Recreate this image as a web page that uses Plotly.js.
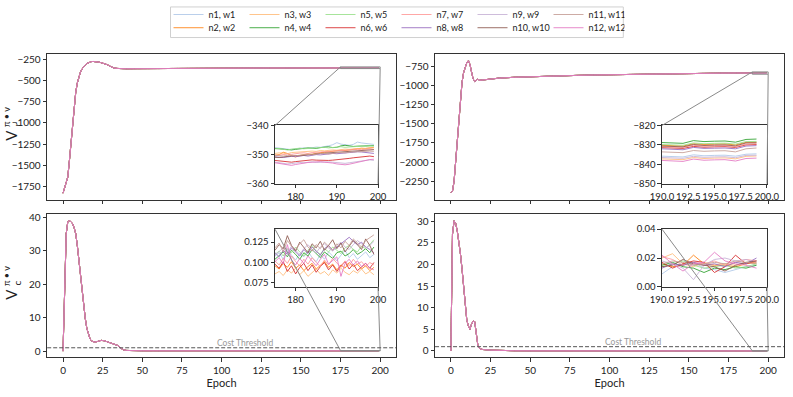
<!DOCTYPE html>
<html>
<head>
<meta charset="utf-8">
<script src="https://cdn.plot.ly/plotly-3.0.1.min.js"></script>
<style>
  html, body { margin: 0; padding: 0; background: #fff; }
  #chart { width: 793px; height: 397px; }
</style>
</head>
<body>
<div id="chart"></div>
<script>
// series labels and colours (tab20 without the first entry)
const seriesNames = ["n1, w1", "n2, w2", "n3, w3", "n4, w4", "n5, w5", "n6, w6",
                     "n7, w7", "n8, w8", "n9, w9", "n10, w10", "n11, w11", "n12, w12"];
const seriesColors = ["#aec7e8", "#ff7f0e", "#ffbb78", "#2ca02c", "#98df8a", "#d62728",
                      "#ff9896", "#9467bd", "#c5b0d5", "#8c564b", "#c49c94", "#e377c2"];

const mainTicks = [0, 25, 50, 75, 100, 125, 150, 175, 200];
const costThreshold = 1;

// ---- shared early part of each curve (all 12 runs overlap there) ----
const headEpochsVrLeft = [0,1,2,3,4,5,6,7,8,9,10,11,12,13,14,15,16,17,18,19,20,22,24,26,28,30,32,34,36,38,40,45,50,60,70,80,90,100,110,120,130,140,150,160,170];
const headVrLeft = [-1830,-1760,-1700,-1640,-1450,-1230,-1000,-800,-640,-530,-450,-400,-365,-338,-316,-300,-289,-281,-277,-276,-277,-282,-290,-300,-315,-335,-352,-358,-361,-362,-362,-361,-360,-359,-358,-357,-356,-356,-355,-354,-353,-353,-352,-351,-351];

const headEpochsVrRight = [0,1,2,3,4,5,6,7,8,9,10,11,12,13,14,15,16,17,18,19,20,25,30,40,50,60,70,80,90,100,110,120,130,140,150,160,170,180,185];
const headVrRight = [-2402,-2380,-2250,-2000,-1720,-1420,-1150,-960,-830,-750,-700,-675,-720,-820,-910,-945,-930,-915,-930,-928,-922,-912,-902,-890,-882,-876,-870,-865,-860,-856,-853,-850,-847,-844,-841,-838,-836,-834,-833];

const headEpochsVcLeft = [0,1,2,3,4,5,6,7,8,9,10,11,12,13,14,15,16,17,18,19,20,22,24,26,28,30,32,34,35,36,38,40,43,50,60,80,100,120,140,160,170];
const headVcLeft = [0,15,35,38.6,38.9,38.6,38,36.8,35,31.5,27,22.5,18,13.5,9.8,6.8,4.8,3.7,3.0,2.75,2.7,2.9,3.2,3.1,2.8,2.5,2.1,1.9,1.6,1.0,0.4,0.2,0.12,0.11,0.1,0.1,0.1,0.1,0.1,0.1,0.1];

const headEpochsVcRight = [0,1,2,3,4,5,6,7,8,9,10,11,12,13,14,15,16,17,18,19,20,25,30,40,50,60,80,100,120,140,160,180,185];
const headVcRight = [0,27,30.1,29.5,27.8,25.5,22.5,19,14.5,10,7.2,5.8,5.0,6.2,6.9,6.8,4.0,1.3,0.6,0.45,0.35,0.2,0.12,0.06,0.04,0.03,0.025,0.02,0.02,0.018,0.017,0.016,0.016];

// ---- last epochs, one row per run (n1 .. n12) ----
const tailEpochsLeft = [175,176,177,178,179,180,181,182,183,184,185,186,187,188,189,190,191,192,193,194,195,196,197,198,199];
const tailEpochsRight = [190,191,192,193,194,195,196,197,198,199];

const tailVrLeft = [
  [-347.6,-347.8,-347.9,-348.1,-348.3,-348.0,-347.8,-347.7,-347.9,-347.6,-347.4,-347.5,-347.3,-347.0,-346.6,-345.9,-346.4,-346.6,-346.8,-346.5,-345.7,-346.0,-346.2,-346.4,-346.5],
  [-350.2,-350.0,-349.2,-349.6,-350.4,-350.8,-350.3,-350.0,-349.8,-349.9,-349.5,-349.3,-349.2,-349.0,-348.9,-348.7,-348.5,-348.6,-348.4,-348.2,-348.0,-347.8,-347.9,-347.6,-347.5],
  [-349.6,-349.4,-349.5,-349.7,-349.3,-349.2,-349.0,-349.1,-348.9,-348.8,-348.9,-348.6,-348.7,-348.5,-348.4,-348.5,-348.3,-348.1,-348.2,-348.0,-347.9,-348.0,-347.8,-347.7,-347.6],
  [-347.9,-348.0,-348.1,-348.3,-348.4,-348.2,-348.0,-347.8,-347.7,-347.8,-347.9,-347.6,-347.4,-347.3,-347.6,-347.5,-347.0,-346.8,-347.0,-347.2,-347.1,-347.0,-346.9,-346.8,-346.9],
  [-348.0,-347.9,-348.2,-348.4,-348.1,-347.9,-347.8,-348.0,-347.9,-347.7,-347.8,-347.6,-347.5,-347.7,-347.6,-347.4,-347.3,-347.5,-347.4,-347.2,-347.3,-347.1,-347.2,-347.0,-347.1],
  [-352.0,-352.1,-352.3,-352.5,-352.6,-352.4,-352.2,-352.0,-351.9,-351.8,-351.9,-352.0,-352.1,-352.0,-351.9,-351.8,-351.6,-351.5,-351.3,-351.1,-350.9,-350.8,-350.6,-350.5,-350.7],
  [-350.4,-350.2,-350.0,-349.8,-349.9,-349.6,-349.5,-349.4,-349.6,-349.3,-349.2,-349.0,-349.1,-348.9,-348.8,-348.6,-348.7,-348.5,-348.4,-348.3,-348.2,-348.3,-348.1,-348.0,-348.2],
  [-350.8,-350.9,-351.0,-350.8,-350.6,-350.7,-350.4,-350.3,-350.5,-350.2,-350.0,-350.1,-349.9,-349.8,-349.6,-349.7,-349.5,-349.4,-349.3,-349.2,-349.0,-349.1,-349.3,-349.4,-349.6],
  [-352.6,-352.8,-353.0,-353.2,-353.1,-352.9,-352.7,-352.8,-352.6,-352.5,-352.7,-352.6,-352.4,-352.5,-352.6,-352.8,-352.9,-353.0,-352.8,-352.6,-352.4,-352.2,-352.0,-351.8,-352.0],
  [-350.9,-351.0,-350.8,-350.6,-350.5,-350.3,-350.4,-350.2,-350.0,-349.9,-349.8,-349.6,-349.5,-349.4,-349.5,-349.3,-349.1,-349.0,-348.9,-348.8,-348.7,-348.6,-348.5,-348.4,-348.3],
  [-350.2,-350.4,-350.5,-350.3,-350.2,-350.4,-350.1,-350.0,-349.9,-350.1,-349.8,-349.7,-349.6,-349.8,-349.5,-349.4,-349.3,-349.4,-349.2,-349.1,-349.0,-349.1,-348.9,-348.8,-348.9],
  [-352.8,-353.0,-353.3,-353.6,-353.7,-353.4,-353.1,-352.9,-352.7,-352.6,-352.5,-352.4,-352.6,-352.7,-352.9,-353.2,-353.4,-353.5,-353.3,-353.0,-352.6,-352.2,-351.9,-351.7,-351.6]
];

const tailVrRight = [
  [-835.8,-836.0,-836.2,-835.1,-835.6,-835.4,-835.3,-835.8,-834.8,-834.6],
  [-830.2,-830.4,-830.6,-829.4,-829.8,-829.6,-829.5,-830.0,-828.7,-828.6],
  [-837.2,-837.4,-837.6,-836.5,-837.0,-836.8,-836.7,-837.2,-835.9,-835.7],
  [-828.8,-829.0,-829.2,-827.8,-828.3,-828.1,-828.0,-828.6,-827.2,-827.0],
  [-829.8,-830.0,-830.2,-829.0,-829.4,-829.2,-829.1,-829.6,-828.3,-828.2],
  [-831.4,-831.6,-831.8,-830.8,-831.2,-831.0,-830.9,-831.3,-830.0,-829.8],
  [-831.0,-831.2,-831.3,-830.2,-830.7,-830.5,-830.4,-830.9,-829.6,-829.4],
  [-832.0,-832.2,-832.5,-831.3,-831.8,-831.7,-831.6,-832.0,-830.6,-830.4],
  [-836.5,-836.7,-836.9,-835.9,-836.4,-836.2,-836.1,-836.6,-835.4,-835.3],
  [-830.6,-830.8,-831.0,-829.8,-830.3,-830.1,-830.0,-830.5,-829.0,-828.9],
  [-833.6,-833.8,-834.0,-832.9,-833.3,-833.1,-833.0,-833.6,-832.0,-831.6],
  [-838.0,-838.2,-838.5,-837.3,-837.9,-837.7,-837.6,-838.3,-837.0,-836.8]
];

const tailVcLeft = [
  [0.108,0.112,0.104,0.116,0.109,0.103,0.111,0.107,0.114,0.106,0.101,0.110,0.104,0.113,0.108,0.102,0.109,0.115,0.106,0.111,0.104,0.108,0.113,0.106,0.110],
  [0.096,0.092,0.099,0.094,0.101,0.093,0.097,0.090,0.095,0.099,0.092,0.096,0.101,0.094,0.098,0.091,0.097,0.093,0.100,0.095,0.098,0.092,0.096,0.090,0.094],
  [0.086,0.089,0.084,0.091,0.087,0.093,0.085,0.090,0.083,0.088,0.092,0.086,0.089,0.084,0.091,0.087,0.093,0.088,0.085,0.090,0.087,0.092,0.086,0.089,0.085],
  [0.104,0.109,0.113,0.107,0.115,0.110,0.104,0.112,0.108,0.116,0.111,0.106,0.113,0.109,0.105,0.112,0.114,0.108,0.111,0.116,0.110,0.113,0.117,0.112,0.119],
  [0.110,0.114,0.108,0.117,0.112,0.119,0.113,0.108,0.115,0.121,0.114,0.110,0.117,0.113,0.119,0.115,0.111,0.118,0.121,0.116,0.113,0.120,0.117,0.122,0.128],
  [0.098,0.093,0.101,0.089,0.096,0.086,0.094,0.099,0.090,0.097,0.088,0.095,0.100,0.091,0.097,0.089,0.096,0.101,0.092,0.098,0.090,0.095,0.099,0.093,0.100],
  [0.102,0.097,0.105,0.099,0.108,0.101,0.096,0.104,0.098,0.106,0.100,0.095,0.103,0.097,0.105,0.099,0.094,0.102,0.096,0.104,0.098,0.101,0.095,0.100,0.097],
  [0.112,0.107,0.115,0.110,0.118,0.113,0.108,0.116,0.111,0.119,0.114,0.109,0.117,0.121,0.115,0.119,0.124,0.127,0.131,0.126,0.122,0.125,0.119,0.116,0.112],
  [0.109,0.114,0.118,0.112,0.120,0.115,0.110,0.117,0.122,0.116,0.112,0.119,0.123,0.118,0.114,0.121,0.125,0.119,0.116,0.122,0.127,0.123,0.118,0.121,0.126],
  [0.115,0.122,0.117,0.133,0.121,0.114,0.125,0.119,0.112,0.123,0.118,0.126,0.115,0.121,0.128,0.117,0.124,0.113,0.120,0.127,0.122,0.116,0.129,0.121,0.110],
  [0.118,0.124,0.113,0.127,0.120,0.116,0.123,0.128,0.119,0.114,0.122,0.117,0.125,0.120,0.115,0.123,0.118,0.126,0.121,0.129,0.124,0.119,0.127,0.131,0.134],
  [0.101,0.106,0.098,0.122,0.103,0.097,0.105,0.099,0.108,0.102,0.096,0.104,0.110,0.098,0.103,0.107,0.083,0.099,0.104,0.097,0.102,0.095,0.099,0.093,0.091]
];

const tailVcRight = [
  [0.009,0.014,0.016,0.017,0.013,0.012,0.010,0.012,0.014,0.015],
  [0.016,0.014,0.015,0.022,0.016,0.015,0.015,0.014,0.016,0.017],
  [0.020,0.023,0.016,0.014,0.017,0.015,0.016,0.015,0.017,0.016],
  [0.015,0.017,0.014,0.013,0.010,0.013,0.012,0.014,0.013,0.015],
  [0.014,0.016,0.018,0.015,0.013,0.014,0.015,0.013,0.014,0.016],
  [0.017,0.013,0.016,0.018,0.017,0.010,0.014,0.022,0.016,0.018],
  [0.021,0.019,0.015,0.017,0.016,0.018,0.015,0.017,0.019,0.018],
  [0.013,0.016,0.015,0.017,0.015,0.016,0.014,0.017,0.016,0.020],
  [0.018,0.016,0.013,0.005,0.015,0.019,0.020,0.018,0.019,0.017],
  [0.014,0.015,0.019,0.016,0.015,0.014,0.011,0.015,0.017,0.018],
  [0.016,0.018,0.017,0.015,0.016,0.017,0.016,0.018,0.017,0.016],
  [0.022,0.016,0.011,0.016,0.017,0.024,0.018,0.016,0.015,0.013]
];

const FONT = "Lato, 'Open Sans', sans-serif";
const AXIS_COLOR = "#333";

// panels: main axes + the inset that zooms into the last epochs
const panels = [
  { xa: "x",  ya: "y",  ix: "x5", iy: "y5", headX: headEpochsVrLeft,  headY: headVrLeft,  tailX: tailEpochsLeft,  tails: tailVrLeft,
    zoomX: [175, 200], zoomY: [-360, -340], cost: false },
  { xa: "x2", ya: "y2", ix: "x6", iy: "y6", headX: headEpochsVrRight, headY: headVrRight, tailX: tailEpochsRight, tails: tailVrRight,
    zoomX: [190, 200], zoomY: [-850, -820], cost: false },
  { xa: "x3", ya: "y3", ix: "x7", iy: "y7", headX: headEpochsVcLeft,  headY: headVcLeft,  tailX: tailEpochsLeft,  tails: tailVcLeft,
    zoomX: [175, 200], zoomY: [0.070, 0.141], cost: true },
  { xa: "x4", ya: "y4", ix: "x8", iy: "y8", headX: headEpochsVcRight, headY: headVcRight, tailX: tailEpochsRight, tails: tailVcRight,
    zoomX: [190, 200], zoomY: [0, 0.04], cost: true }
];

let traces = [];

panels.forEach(function(p, pi) {
  for (let i = 0; i < seriesNames.length; i++) {
    let xs = p.headX.concat(p.tailX);
    let ys = p.headY.concat(p.tails[i]);
    traces.push({
      x: xs, y: ys, xaxis: p.xa, yaxis: p.ya,
      type: "scatter", mode: "lines",
      name: seriesNames[i],
      legend: (i % 2 == 0) ? "legend" : "legend2",
      showlegend: pi == 0,
      opacity: 0.85,
      line: { color: seriesColors[i], width: 1 }
    });
  }
  // inset lines
  for (let i = 0; i < seriesNames.length; i++) {
    traces.push({
      x: p.tailX, y: p.tails[i], xaxis: p.ix, yaxis: p.iy,
      type: "scatter", mode: "lines",
      name: seriesNames[i], showlegend: false,
      opacity: 0.85,
      line: { color: seriesColors[i], width: 1 }
    });
  }
});

function baseAxis(extra) {
  let a = {
    showline: true, mirror: true, linecolor: AXIS_COLOR, linewidth: 1,
    ticks: "outside", ticklen: 3.5, tickwidth: 1, tickcolor: AXIS_COLOR,
    showgrid: false, zeroline: false, tickangle: 0,
    tickfont: { family: FONT, size: 10, color: "#222" }
  };
  return Object.assign(a, extra);
}

const insetTickFont = { family: FONT, size: 9.5, color: "#222" };

const leftX = [0.0595, 0.4994];
const rightX = [0.5486, 0.9887];
const topY = [0.5038, 0.8741];
const bottomY = [0.1008, 0.4660];
const insetLeftX = [0.3468, 0.4767];
const insetRightX = [0.8348, 0.9672];
const insetTopY = [0.5440, 0.6927];
const insetBottomY = [0.2808, 0.4282];

const legendFont = { family: FONT, size: 9, color: "#222" };

const layout = {
  width: 793, height: 397,
  margin: { l: 0, r: 0, t: 0, b: 0 },
  paper_bgcolor: "#fff", plot_bgcolor: "#fff",
  font: { family: FONT, color: "#222" },
  showlegend: true,
  legend: {
    orientation: "h", x: 0.5, xanchor: "center", y: 1.013, yanchor: "top",
    bgcolor: "rgba(0,0,0,0)", borderwidth: 0,
    entrywidth: 31, entrywidthmode: "pixels", itemwidth: 30,
    font: legendFont
  },
  legend2: {
    orientation: "h", x: 0.5, xanchor: "center", y: 0.979, yanchor: "top",
    bgcolor: "rgba(0,0,0,0)", borderwidth: 0,
    entrywidth: 31, entrywidthmode: "pixels", itemwidth: 30,
    font: legendFont
  },
  xaxis:  baseAxis({ domain: leftX,  anchor: "y",  range: [-10, 210], tickvals: mainTicks, showticklabels: false }),
  yaxis:  baseAxis({ domain: topY,   anchor: "x",  range: [-1905, -192], dtick: 250 }),
  xaxis2: baseAxis({ domain: rightX, anchor: "y2", range: [-10, 210], tickvals: mainTicks, showticklabels: false }),
  yaxis2: baseAxis({ domain: topY,   anchor: "x2", range: [-2490, -590], dtick: 250 }),
  xaxis3: baseAxis({ domain: leftX,  anchor: "y3", range: [-10, 210], tickvals: mainTicks,
                     title: { text: "Epoch", font: { family: FONT, size: 11, color: "#222" }, standoff: 3 } }),
  yaxis3: baseAxis({ domain: bottomY, anchor: "x3", range: [-1.9, 40.8], dtick: 10 }),
  xaxis4: baseAxis({ domain: rightX, anchor: "y4", range: [-10, 210], tickvals: mainTicks,
                     title: { text: "Epoch", font: { family: FONT, size: 11, color: "#222" }, standoff: 3 } }),
  yaxis4: baseAxis({ domain: bottomY, anchor: "x4", range: [-1.5, 31.6], dtick: 5 }),

  xaxis5: baseAxis({ domain: insetLeftX,  anchor: "y5", range: [175, 200], tickvals: [180, 190, 200], tickfont: insetTickFont }),
  yaxis5: baseAxis({ domain: insetTopY,   anchor: "x5", range: [-360, -340], tickvals: [-360, -350, -340], tickfont: insetTickFont }),
  xaxis6: baseAxis({ domain: insetRightX, anchor: "y6", range: [190, 200], tickvals: [190, 192.5, 195, 197.5, 200], tickformat: ".1f", tickfont: insetTickFont }),
  yaxis6: baseAxis({ domain: insetTopY,   anchor: "x6", range: [-850, -820], tickvals: [-850, -840, -830, -820], tickfont: insetTickFont }),
  xaxis7: baseAxis({ domain: insetLeftX,  anchor: "y7", range: [175, 200], tickvals: [180, 190, 200], tickfont: insetTickFont }),
  yaxis7: baseAxis({ domain: insetBottomY, anchor: "x7", range: [0.070, 0.141], tickvals: [0.075, 0.1, 0.125], tickformat: ".3f", tickfont: insetTickFont }),
  xaxis8: baseAxis({ domain: insetRightX, anchor: "y8", range: [190, 200], tickvals: [190, 192.5, 195, 197.5, 200], tickformat: ".1f", tickfont: insetTickFont }),
  yaxis8: baseAxis({ domain: insetBottomY, anchor: "x8", range: [0, 0.04], tickvals: [0, 0.02, 0.04], tickformat: ".2f", tickfont: insetTickFont }),
  shapes: [],
  annotations: []
};

// y titles: V with stacked super/subscript, written as rotated texts
function addValueTitle(sub, yCenterPx) {
  const W = 793, H = 397;
  const common = { xref: "paper", yref: "paper", showarrow: false, textangle: -90,
                   xanchor: "center", yanchor: "middle" };
  layout.annotations.push(Object.assign({}, common, {
    x: 11.5 / W, y: 1 - (yCenterPx + 8) / H, text: "V",
    font: { family: FONT, size: 15, color: "#222" }
  }));
  layout.annotations.push(Object.assign({}, common, {
    x: 6.5 / W, y: 1 - (yCenterPx - 10) / H, text: "π • ν",
    font: { family: FONT, size: 9, color: "#222" }
  }));
  layout.annotations.push(Object.assign({}, common, {
    x: 17 / W, y: 1 - (yCenterPx - 3) / H, text: sub,
    font: { family: FONT, size: 10, color: "#222" }
  }));
}
addValueTitle("r", 124);
addValueTitle("c", 285);

// axis name ("x5") -> layout key ("xaxis5")
function axKey(name) {
  return name.charAt(0) + "axis" + name.slice(1);
}
// place a value of an axis on the paper (used only for the inset connector lines)
function toPaper(name, v) {
  const a = layout[axKey(name)];
  return a.domain[0] + (v - a.range[0]) / (a.range[1] - a.range[0]) * (a.domain[1] - a.domain[0]);
}

const zoomLine = { color: "#8a8a8a", width: 1 };

panels.forEach(function(p) {
  // box of the zoomed region in the main axes
  layout.shapes.push({
    type: "rect", xref: p.xa, yref: p.ya,
    x0: p.zoomX[0], x1: p.zoomX[1], y0: p.zoomY[0], y1: p.zoomY[1],
    line: zoomLine, layer: "above"
  });

  const ixd = layout[axKey(p.ix)].domain;
  const iyd = layout[axKey(p.iy)].domain;
  // upper-left corner of inset -> upper-left corner of box
  layout.shapes.push({
    type: "line", xref: "paper", yref: "paper",
    x0: ixd[0], y0: iyd[1],
    x1: toPaper(p.xa, p.zoomX[0]), y1: toPaper(p.ya, p.zoomY[1]),
    line: zoomLine
  });
  // lower-right corner of inset -> lower-right corner of box
  layout.shapes.push({
    type: "line", xref: "paper", yref: "paper",
    x0: ixd[1], y0: iyd[0],
    x1: toPaper(p.xa, p.zoomX[1]), y1: toPaper(p.ya, p.zoomY[0]),
    line: zoomLine
  });

  if (p.cost) {
    layout.shapes.push({
      type: "line", xref: p.xa + " domain", yref: p.ya,
      x0: 0, x1: 1, y0: costThreshold, y1: costThreshold,
      line: { color: "#555", width: 1, dash: "4px,2px" }
    });
    layout.annotations.push({
      xref: p.xa, yref: p.ya, x: 115, y: costThreshold,
      text: "Cost Threshold", showarrow: false,
      xanchor: "center", yanchor: "bottom", yshift: -2,
      font: { family: FONT, size: 8.5, color: "#999" }
    });
  }
});

// legend frame around both legend rows
layout.shapes.push({
  type: "rect", xref: "paper", yref: "paper",
  x0: 0.215, x1: 0.786, y0: 0.917, y1: 0.995,
  line: { color: "#d0d0d0", width: 1 }
});

Plotly.newPlot("chart", traces, layout, { staticPlot: true, displayModeBar: false });
</script>
</body>
</html>
